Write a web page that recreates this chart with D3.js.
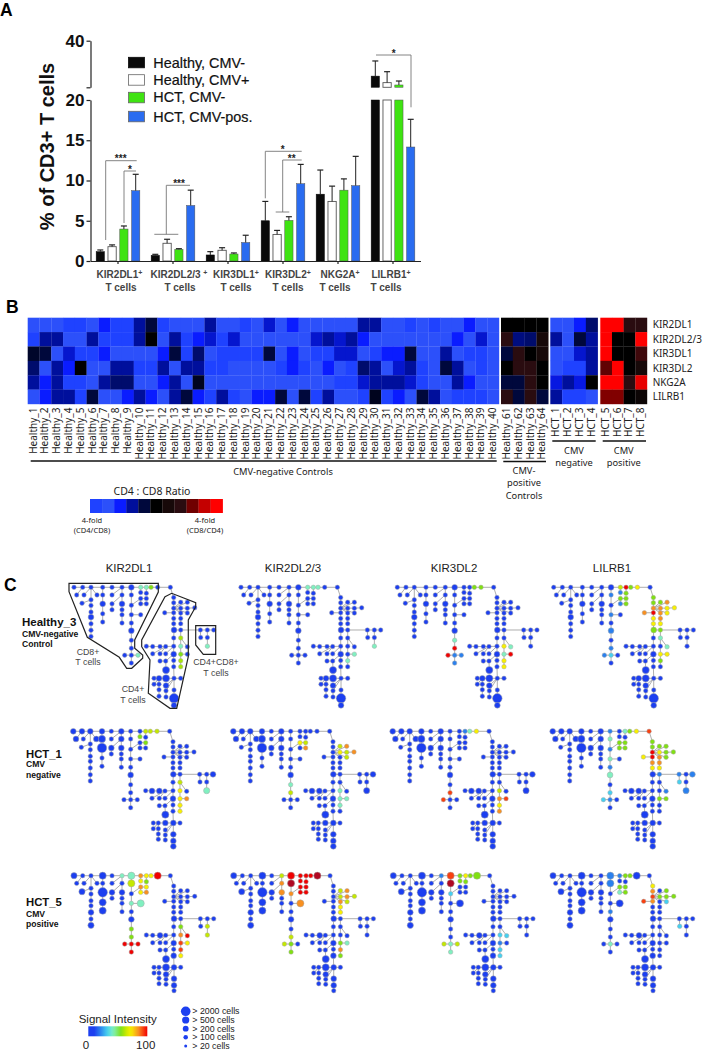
<!DOCTYPE html>
<html>
<head>
<meta charset="utf-8">
<style>
  html, body { margin: 0; padding: 0; background: #fff; }
  svg { display: block; }
  text { font-family: "Liberation Sans", Arial, sans-serif; }
  .myriad { font-family: "Noto Sans", sans-serif; fill: #222; }
</style>
</head>
<body>
<div id="chart"></div>
<script src="https://cdn.jsdelivr.net/npm/d3@7"></script>
<script>
// ---------- panel A data ----------
var markers = ['KIR2DL1', 'KIR2DL2/3 ', 'KIR3DL1', 'KIR3DL2', 'NKG2A', 'LILRB1'];
var groups = ['Healthy, CMV-', 'Healthy, CMV+', 'HCT, CMV-', 'HCT, CMV-pos.'];
var groupColors = ['#0a0a0a', '#ffffff', '#3fe312', '#2a6cf0'];
var healthyNeg = [1.16, 0.7, 0.75, 5.0, 8.3, 24.8];
var healthyNegErr = [1.37, 0.83, 1.16, 7.4, 11.3, 31.3];
var healthyPos = [1.78, 2.2, 1.33, 3.3, 7.4, 22.0];
var healthyPosErr = [2.0, 2.7, 1.65, 3.8, 9.3, 26.7];
var hctNeg = [3.97, 1.45, 0.87, 5.05, 8.8, 21.0];
var hctNegErr = [4.35, 1.53, 1.0, 5.5, 10.2, 22.7];
var hctPos = [8.74, 6.9, 2.3, 9.6, 9.36, 14.16];
var hctPosErr = [10.77, 8.8, 3.2, 12.0, 13.0, 17.6];
var barMeans = [healthyNeg, healthyPos, hctNeg, hctPos];
var barErrs = [healthyNegErr, healthyPosErr, hctNegErr, hctPosErr];

// ---------- panel B data: level -5 (4-fold CD4/CD8) ... 0 ... 5 (4-fold CD8/CD4) ----------
var healthySamples = d3.range(1, 41).map(d => 'Healthy_' + d);
var cmvPosSamples = ['Healthy_61', 'Healthy_62', 'Healthy_63', 'Healthy_64'];
var hctNegSamples = ['HCT_1', 'HCT_2', 'HCT_3', 'HCT_4'];
var hctPosSamples = ['HCT_5', 'HCT_6', 'HCT_7', 'HCT_8'];
var heatMarkers = ['KIR2DL1', 'KIR2DL2/3', 'KIR3DL1', 'KIR3DL2', 'NKG2A', 'LILRB1'];

var healthyLevels = [
  [-5,-5,-5,-4,-4,-5,-3,-4,-4,-2,-1,-4,-5,-5,-5,-2,-5,-5,-4,-5,-2.5,-5,-3,-5,-5,-5,-5,-5,-2,-2,-5,-5,-4,-5,-4,-5,-5,-3,-5,-5],
  [-4,-2,-2,-5,-5,-2,-4,-4,-4,-2,0,-5,-2,-4,-3,-2.5,-4,-2.5,-5,-5,-5,-5,-5,-5,-2.5,-2,-2.5,-2,-3,-5,-5,-5,-5,-5,-5,-5,-3,-5,-2.5,-5],
  [-0.7,-1,-5,-2.5,-4,-4,-3,-5,-5,-5,-5,-3,-1,-4,-1.5,-5,-4,-4,-4,-4,-1,-5,-3,-5,-4,-4,-2.5,-2.5,-5,-4,-3,-3,-1,-5,-5,-2,-5,-4,-4,-5],
  [-1.5,-5,-2,-3,0,-5,-5,-2,-2,-4,-4,-2,-5,-2,-2,-4,-4,-5,-5,-5,-5,-4,-3,-4,-5,-3,-5,-4,-1.5,-2,-5,-2.5,-2,-4,-5,-1,-2,-5,-4,-5],
  [-2,-3,-2,-4,-4,-5,-2,-1.5,-1.5,-5,-5,-3,-2,-5,-0.5,-5,-5,-5,-5,-5,-5,-5,-5,-5,-5,-5,-4,-4,-2.5,-2,-2,-2,-2.5,-4,-5,-5,-2,-3,-5,-5],
  [-5,-3,-2,-2,-4,-1,-5,-5,-3,-2,-3,-5,-2,-1,-3,-4,-2,-4,-5,-3,-3,-1,-5,-1,-4,-2,-5,-5,-4,-0.5,-4,-3,-5,-1,-2,-5,-4,-4,-4,-5]
];
var cmvPosLevels = [
  [0, 0, 0, 0],
  [2, -1.7, -1.5, 1],
  [-1, 2, 0, 1],
  [0, 2, 2, 0],
  [-1, -1, 2, 0],
  [2, -1, 2, -1]
];
var hctNegLevels = [
  [-5, -5, -3, -1.5],
  [-2, -5, -1, -2],
  [-5, -5, -2.5, -2],
  [-5, -4, -4, -2],
  [-2.7, -2, -2.7, 0],
  [-2, -4, -4, -5]
];
var hctPosLevels = [
  [5, 5, 2, 2],
  [5, 0, 0, 5],
  [5, 0, 0, 2.3],
  [2.8, 5, 0, 1],
  [5, 5, 2, 4.6],
  [3.2, 3.2, 0, 0.5]
];
var legendLevels = [-4, -5, -3, -2, -1, 0, 1, 2, 3, 4, 5];
var levelDomain = [-5, -4, -3, -2, -1, 0, 1, 2, 3, 4, 5];
var levelColors = ['#2c50fa', '#1f42ff', '#0a1cff', '#000f9c', '#00083c', '#000000', '#170909', '#2a0c10', '#700000', '#c40000', '#ff0000'];

// ---------- panel C data: one tree shared by all twelve plots ----------
var nodeX = [41,67,92,127,155,185,213,241,258,272,292,330,49,71,92,110,127,65,127,127,127,92,92,92,92,92,92,155,155,185,185,155,185,185,185,213,213,241,258,241,258,241,258,213,241,213,213,213,213,213,193,233,213,340,340,340,361,381,361,381,403,361,381,313,340,340,361,340,361,341,361,420,441,460,421,441,441,340,361,340,316,299,277,258,361,381,277,299,316,340,361,381,299,316,340,361,340,361,317,281,296,317,341,361,281,296,317,296,317,341,296,317,341,341];
var nodeY = [107,107,107,107,107,107,107,107,107,107,107,107,130,130,145,130,130,155,157,187,212,162,182,197,217,237,256,130,157,130,157,175,175,190,215,130,161,123,125,141,141,157,157,190,190,215,238,267,291,312,312,312,336,138,154,170,152,152,170,170,169,185,185,184,184,201,201,217,217,236,236,236,236,236,259,259,285,260,260,285,286,286,286,285,285,287,308,308,308,309,309,309,330,330,328,329,347,347,357,382,382,382,382,382,399,399,403,415,418,416,431,433,436,452];
var nodeParent = [-1,0,1,2,3,4,5,6,7,8,9,10,1,2,2,2,3,14,16,18,19,14,21,22,23,24,25,5,29,5,29,28,30,32,33,6,35,7,8,36,39,39,41,36,43,43,45,46,47,48,49,49,49,11,53,54,55,55,55,58,59,55,55,64,55,64,61,65,66,67,69,70,71,72,71,72,75,69,70,77,79,80,81,82,78,78,80,80,79,79,84,90,93,89,89,90,94,95,93,100,101,102,96,102,100,100,102,105,102,102,107,108,109,112];

// estimated cells per node, per row, [node, cells]; every other node is ~100 cells
var cellsRow1 = [[6,200],[18,200],[23,200],[30,200],[46,200],[69,200],[89,200],[98,500],[101,500],[100,200],[106,200],[112,2000],[113,200]];
var cellsRow2 = [[0,200],[1,200],[2,200],[3,200],[5,200],[12,200],[15,200],[16,500],[18,2000],[28,200],[29,200],[30,200],[46,200],[69,200],[73,200],[76,300],[81,200],[82,200],[89,200],[98,500],[101,200],[102,200],[109,200],[112,200],[113,200]];
var cellsRow3 = [[0,300],[3,500],[6,500],[10,500],[17,300],[18,2000],[19,500],[20,500],[24,200],[26,300],[28,200],[30,200],[35,500],[44,500],[46,200],[69,200],[81,200],[89,200],[96,200],[98,500],[101,500],[102,200],[106,200],[109,200],[112,200]];
var cellCounts = [20, 100, 200, 500, 2000];
var cellLabels = ['> 2000 cells', '> 500 cells', '> 200 cells', '> 100 cells', '> 20 cells'];

// signal intensity; every other node is at the bottom of the scale
var LB = 20, CY = 32, MT = 42, LM = 56, YG = 63, YL = 72, OR = 85, RO = 93, RD = 100, DR = 110;
var sigH3Kir2dl1 = [[7,MT],[8,MT],[9,LM],[51,MT],[76,MT],[78,60],[84,MT],[90,LM],[95,60],[97,60]];
var sigH3Kir2dl23 = [[7,MT],[8,MT],[9,MT],[76,MT],[91,MT],[95,MT]];
var sigH3Kir3dl2 = [[9,LM],[10,LM],[47,MT],[48,RD],[49,LB],[50,RD],[51,LB],[52,LB],[84,YL],[85,MT],[90,MT],[91,RD],[95,YL],[97,YL]];
var sigH3Lilrb1 = [[7,YG],[8,RD],[9,LM],[10,YL],[35,LB],[37,LB],[38,LM],[39,LM],[40,LM],[41,LB],[42,LM],[43,LB],[46,LB],[48,LB],[49,CY],[50,LB],[53,LM],[54,LM],[55,OR],[56,LM],[57,OR],[58,OR],[59,YL],[60,YL],[61,OR],[62,YL],[63,OR],[64,RD],[65,YL],[66,OR],[67,YL],[68,YL],[69,LM],[70,LM],[78,MT],[85,MT],[90,YL],[91,YL],[95,LM]];
var sigH1Kir2dl1 = [[8,YG],[9,YG],[10,YG],[37,LM],[40,LM],[76,MT],[78,YG],[84,YL],[90,YL],[91,OR],[95,YL],[97,YL]];
var sigH1Kir2dl23 = [[39,YL],[40,YG],[42,OR],[47,MT],[48,YG],[56,YG],[57,OR],[58,YL],[59,YG],[60,OR],[62,YG],[84,MT],[90,MT],[91,MT],[95,MT]];
var sigH1Kir3dl2 = [[8,LB],[9,MT],[10,YL],[48,RO],[50,RO],[84,YG],[90,OR],[91,RO],[95,YL],[97,OR]];
var sigH1Lilrb1 = [[6,LB],[8,MT],[9,LM],[10,YL],[11,RO],[35,MT],[36,LB],[39,LM],[40,LM],[41,LM],[42,LM],[43,MT],[45,LB],[46,MT],[48,CY],[49,LB],[50,CY],[53,LM],[54,LM],[55,RD],[56,LM],[57,LM],[58,YL],[59,LM],[60,LM],[61,OR],[62,LM],[63,YL],[64,RD],[65,OR],[66,OR],[67,YL],[68,YL],[70,LB],[71,LB],[73,LB],[74,CY],[76,LB],[85,LB],[90,LM],[91,LM]];
var sigH5Kir2dl1 = [[5,MT],[6,MT],[7,OR],[8,YL],[9,YL],[10,RD],[35,YG],[37,YL],[38,LM],[39,OR],[40,YL],[41,YL],[42,OR],[43,MT],[44,MT],[47,LM],[48,LM],[49,RD],[50,RD],[51,RD],[52,RD],[75,YG],[76,YG],[78,LM],[84,OR],[85,RD],[90,RO],[91,YL],[95,RO],[97,YL]];
var sigH5Kir2dl23 = [[5,YG],[6,RD],[7,RD],[8,RD],[9,RD],[10,DR],[29,OR],[30,OR],[35,DR],[36,OR],[37,RD],[38,RD],[39,RD],[40,RD],[41,RD],[42,RD],[44,OR],[48,YG],[49,LM],[50,YG],[52,LM],[56,YG],[57,OR],[58,YG],[59,OR],[60,YG],[61,OR],[62,YG],[66,YL],[68,YL],[90,LM],[91,MT],[95,OR],[97,LM]];
var sigH5Kir3dl2 = [[5,LB],[6,RO],[7,LM],[8,YL],[9,LM],[10,LM],[35,DR],[36,CY],[37,LM],[38,LM],[49,MT],[50,YG],[51,YG],[52,MT],[84,CY],[85,CY],[90,LB],[95,CY],[97,CY]];
var sigH5Lilrb1 = [[6,LB],[7,LB],[8,LM],[9,LM],[35,LB],[39,LM],[40,LM],[41,MT],[42,LM],[45,LB],[49,MT],[53,YL],[54,OR],[55,RO],[57,LM],[58,LM],[59,LM],[60,LM],[62,CY],[63,RO],[64,OR],[74,CY]];
var columnNames = ['KIR2DL1', 'KIR2DL2/3', 'KIR3DL2', 'LILRB1'];
var treeSignals = [
  [sigH3Kir2dl1, sigH3Kir2dl23, sigH3Kir3dl2, sigH3Lilrb1],
  [sigH1Kir2dl1, sigH1Kir2dl23, sigH1Kir3dl2, sigH1Lilrb1],
  [sigH5Kir2dl1, sigH5Kir2dl23, sigH5Kir3dl2, sigH5Lilrb1]
];
var treeCells = [cellsRow1, cellsRow2, cellsRow3];

var svg = d3.select('#chart').append('svg')
  .attr('width', 703)
  .attr('height', 1050);

panelLetter('A', 0, 16);
panelLetter('B', 6, 313);
panelLetter('C', 4, 591);
barChart();
heatmap();
treePanels();

function panelLetter(t, x, y) {
  svg.append('text').attr('x', x).attr('y', y)
    .style('font-size', '17.5px').style('font-weight', 'bold').text(t);
}

function barChart() {
  var yLow = d3.scaleLinear().domain([0, 20]).range([261, 100]);
  var yHigh = d3.scaleLinear().domain([20, 40]).range([87.3, 40.7]);
  var xGroup = d3.scaleBand().domain(markers).range([90.5, 420.5]);
  var xBar = d3.scaleBand().domain(groups)
    .range([0, xGroup.bandwidth() - 7.8])
    .paddingInner(0.3).paddingOuter(0.15);
  var offset = 3.9;

  var g = svg.append('g');
  groups.forEach(function (name, s) {
    var bars = g.append('g').selectAll('g')
      .data(markers)
      .enter()
      .append('g')
      .attr('transform', m => `translate(${xGroup(m) + offset + xBar(name)}, 0)`);
    var w = xBar.bandwidth();
    bars.append('rect')
      .attr('width', w)
      .attr('y', (m, i) => yLow(Math.min(barMeans[s][i], 20)))
      .attr('height', (m, i) => 261 - yLow(Math.min(barMeans[s][i], 20)))
      .style('fill', groupColors[s])
      .style('stroke', s === 0 ? '#0a0a0a' : '#555')
      .style('stroke-width', s === 1 ? 0.9 : 0.5);
    bars.filter((m, i) => barMeans[s][i] > 20)
      .append('rect')
      .attr('width', w)
      .attr('y', m => yHigh(barMeans[s][markers.indexOf(m)]))
      .attr('height', m => 87.3 - yHigh(barMeans[s][markers.indexOf(m)]))
      .style('fill', groupColors[s])
      .style('stroke', s === 0 ? '#0a0a0a' : '#555')
      .style('stroke-width', s === 1 ? 0.9 : 0.5);
    // upper error bar only
    var yVal = v => v > 20 ? yHigh(v) : yLow(v);
    bars.append('line')
      .attr('x1', w / 2).attr('x2', w / 2)
      .attr('y1', (m, i) => yVal(barMeans[s][i]))
      .attr('y2', (m, i) => yVal(barErrs[s][i]))
      .style('stroke', '#222').style('stroke-width', 1);
    bars.append('line')
      .attr('x1', w / 2 - 3).attr('x2', w / 2 + 3)
      .attr('y1', (m, i) => yVal(barErrs[s][i]))
      .attr('y2', (m, i) => yVal(barErrs[s][i]))
      .style('stroke', '#222').style('stroke-width', 1.2);
  });

  // axes
  var axisLow = svg.append('g').attr('transform', 'translate(90.5, 0)')
    .call(d3.axisLeft(yLow).tickValues([0, 5, 10, 15, 20]).tickSize(4).tickSizeOuter(0).tickPadding(2));
  var axisHigh = svg.append('g').attr('transform', 'translate(90.5, 0)')
    .call(d3.axisLeft(yHigh).tickValues([20, 40]).tickSize(4).tickSizeOuter(0).tickPadding(2)
      .tickFormat(d => d === 40 ? '40' : ''));
  [axisLow, axisHigh].forEach(function (a) {
    a.selectAll('path, line').style('stroke', '#222').style('stroke-width', 1.2);
    a.selectAll('text').style('font-size', '17px').style('font-weight', 'bold')
      .style('font-family', '"Liberation Sans", sans-serif').style('fill', '#111');
  });
  var axisX = svg.append('g').attr('transform', 'translate(0, 261)')
    .call(d3.axisBottom(xGroup).tickSize(3).tickSizeOuter(0).tickFormat(''));
  axisX.selectAll('path, line').style('stroke', '#222').style('stroke-width', 1.2);

  svg.append('text')
    .attr('transform', 'translate(54, 146.5) rotate(-90)')
    .style('text-anchor', 'middle')
    .style('font-size', '20px').style('font-weight', 'bold').style('fill', '#111')
    .text('% of CD3+ T cells');

  // category labels sit a little off the tick in the original
  var labelShift = [1.5, 6, 8, 5, 2, -2];
  var cellsShift = [3, 7, 8, 5, -3, -7];
  var labels = svg.append('g').style('font-size', '10px').style('font-weight', 'bold')
    .style('fill', '#444').style('text-anchor', 'middle');
  markers.forEach(function (m, i) {
    var cx = xGroup(m) + xGroup.bandwidth() / 2;
    var t = labels.append('text').attr('x', cx + labelShift[i]).attr('y', 278).text(m);
    t.append('tspan').attr('dy', -3).style('font-size', '7px').text('+');
    labels.append('text').attr('x', cx + cellsShift[i]).attr('y', 291).text('T cells');
  });

  // legend
  var legendTop = [57.3, 74.7, 92.3, 111.3];
  var legendBase = [67.5, 84.8, 102, 122];
  groups.forEach(function (name, i) {
    svg.append('rect').attr('x', 128.5).attr('y', legendTop[i]).attr('width', 16).attr('height', 10.5)
      .style('fill', groupColors[i]).style('stroke', i === 0 ? '#0a0a0a' : '#666').style('stroke-width', 0.8);
    svg.append('text').attr('x', 153.3).attr('y', legendBase[i])
      .style('font-size', '14.4px').style('fill', '#111').style('stroke', '#111').style('stroke-width', 0.2)
      .text(name);
  });

  // significance brackets
  var sigLines = [
    [[105.7, 240], [105.7, 160.7], [136.7, 160.7]],
    [[124, 223], [124, 171], [136, 171]],
    [[166.3, 234.3], [166.3, 185.3], [190, 185.3]],
    [[154.3, 234.3], [178.3, 234.3]],
    [[265.3, 198.3], [265.3, 151.3], [301.7, 151.3]],
    [[282.7, 212], [282.7, 160], [301.7, 160]],
    [[275.7, 212], [289.3, 212]],
    [[376, 55], [411, 55], [411, 107.3]]
  ];
  var sigStars = [['***', 120.7, 162], ['*', 130, 172.5], ['***', 179, 187], ['*', 282.7, 153], ['**', 291.7, 162], ['*', 393.7, 57]];
  var line = d3.line();
  svg.append('g').selectAll('path')
    .data(sigLines)
    .enter()
    .append('path')
    .attr('d', line)
    .style('fill', 'none').style('stroke', '#777').style('stroke-width', 0.9);
  svg.append('g').selectAll('text')
    .data(sigStars)
    .enter()
    .append('text')
    .attr('x', d => d[1]).attr('y', d => d[2])
    .style('text-anchor', 'middle').style('font-size', '10px').style('font-weight', 'bold').style('fill', '#222')
    .text(d => d[0]);
}

function heatmap() {
  var color = d3.scaleLinear().domain(levelDomain).range(levelColors);
  var yCell = d3.scaleBand().domain(heatMarkers).range([317.7, 404]);

  function block(samples, levels, x0, x1) {
    var x = d3.scaleBand().domain(samples).range([x0, x1]);
    var g = svg.append('g');
    levels.forEach(function (row, r) {
      g.selectAll('rect.r' + r)
        .data(row)
        .enter()
        .append('rect')
        .attr('class', 'r' + r)
        .attr('x', (d, i) => x(samples[i]))
        .attr('y', yCell(heatMarkers[r]))
        .attr('width', x.bandwidth() + 0.2)
        .attr('height', yCell.bandwidth() + 0.2)
        .style('fill', d => color(d));
    });
    g.selectAll('text')
      .data(samples)
      .enter()
      .append('text')
      .attr('class', 'myriad')
      .attr('transform', d => `translate(${x(d) + x.bandwidth() / 2 + 3}, 407.5) rotate(-90)`)
      .style('text-anchor', 'end')
      .style('font-size', '10px')
      .text(d => d);
  }
  block(healthySamples, healthyLevels, 27.7, 499);
  block(cmvPosSamples, cmvPosLevels, 501, 548.3);
  block(hctNegSamples, hctNegLevels, 550.3, 597.7);
  block(hctPosSamples, hctPosLevels, 600.3, 647);

  svg.append('g').selectAll('text')
    .data(heatMarkers)
    .enter()
    .append('text')
    .attr('class', 'myriad')
    .attr('x', 652.7)
    .attr('y', d => yCell(d) + yCell.bandwidth() / 2 + 3.5)
    .style('font-size', '10px')
    .text(d => d);

  // group rules and captions
  var rules = [[30.7, 496.7, 461], [503.3, 546, 461.5], [552.3, 595.7, 441], [602.7, 646, 441]];
  svg.append('g').selectAll('line')
    .data(rules)
    .enter()
    .append('line')
    .attr('x1', d => d[0]).attr('x2', d => d[1])
    .attr('y1', d => d[2]).attr('y2', d => d[2])
    .style('stroke', '#111').style('stroke-width', 1.3);
  var captions = [
    ['CMV-negative Controls', 283, 475], ['CMV-', 524, 474], ['positive', 524, 486], ['Controls', 524, 498.5],
    ['CMV', 574, 453.5], ['negative', 574, 465.5], ['CMV', 623.7, 453.5], ['positive', 623.7, 465.5]
  ];
  svg.append('g').selectAll('text')
    .data(captions)
    .enter()
    .append('text')
    .attr('class', 'myriad')
    .attr('x', d => d[1]).attr('y', d => d[2])
    .style('text-anchor', 'middle').style('font-size', '9.3px')
    .text(d => d[0]);

  // ratio legend
  var xLegend = d3.scaleBand().domain(d3.range(legendLevels.length)).range([90, 222.7]);
  svg.append('g').selectAll('rect')
    .data(legendLevels)
    .enter()
    .append('rect')
    .attr('x', (d, i) => xLegend(i)).attr('y', 499)
    .attr('width', xLegend.bandwidth() + 0.2).attr('height', 14)
    .style('fill', d => color(d));
  var legendText = [
    ['CD4 : CD8 Ratio', 152, 494.5, 10.5], ['4-fold', 92, 523, 7.5], ['(CD4/CD8)', 92, 532.5, 7.5],
    ['4-fold', 205, 523, 7.5], ['(CD8/CD4)', 205, 532.5, 7.5]
  ];
  svg.append('g').selectAll('text')
    .data(legendText)
    .enter()
    .append('text')
    .attr('class', 'myriad')
    .attr('x', d => d[1]).attr('y', d => d[2])
    .style('text-anchor', 'middle').style('font-size', d => d[3] + 'px')
    .text(d => d[0]);
}

function treePanels() {
  var rowY = [587.3, 731.3, 875.7];
  var colX = [[74, 241, 397.3, 553.7], [73.3, 233.3, 392.7, 552.7], [74, 233.7, 393.3, 553]];
  var x = d3.scaleLinear().domain([41, 460]).range([0, 139.7]);
  // top row plots run slightly taller at the bottom
  var yRow1 = d3.scaleLinear().domain([107, 382, 416, 436, 452]).range([0, 91, 102.7, 111, 118]);
  var yRest = d3.scaleLinear().domain([107, 452]).range([0, 115]);
  var radius = d3.scaleLinear().domain(cellCounts).range([1.5, 2.25, 2.9, 3.6, 4.8]);
  var color = d3.scaleLinear()
    .domain([0, 10, 20, 32, 42, 56, 63, 72, 85, 93, 100, 110])
    .range(['#1c3ff0', '#1c3ff0', '#2a80ee', '#45d0f0', '#80f0c0', '#80e012', '#c4e800', '#f8f000', '#f89020', '#f84010', '#f00000', '#b00822']);
  var links = d3.range(nodeX.length).filter(i => nodeParent[i] >= 0);

  treeSignals.forEach(function (rowSig, r) {
    var y = r === 0 ? yRow1 : yRest;
    var cells = new Map(treeCells[r]);
    rowSig.forEach(function (sig, c) {
      var signal = new Map(sig);
      var g = svg.append('g').attr('transform', `translate(${colX[r][c]}, ${rowY[r]})`);
      g.selectAll('line')
        .data(links)
        .enter()
        .append('line')
        .attr('x1', i => x(nodeX[i])).attr('y1', i => y(nodeY[i]))
        .attr('x2', i => x(nodeX[nodeParent[i]])).attr('y2', i => y(nodeY[nodeParent[i]]))
        .style('stroke', '#999').style('stroke-width', 0.8);
      g.selectAll('circle')
        .data(nodeX)
        .enter()
        .append('circle')
        .attr('cx', d => x(d))
        .attr('cy', (d, i) => y(nodeY[i]))
        .attr('r', (d, i) => radius(cells.get(i) || 100))
        .style('fill', (d, i) => color(signal.get(i) || 0))
        .style('stroke', '#aaa').style('stroke-width', 0.5);
    });
  });

  // column headers and row captions
  var headX = [129, 293, 454, 612];
  svg.append('g').selectAll('text')
    .data(columnNames)
    .enter()
    .append('text')
    .attr('x', (d, i) => headX[i]).attr('y', 572)
    .style('text-anchor', 'middle').style('font-size', '11.5px').style('fill', '#222')
    .text(d => d);
  var rowText = [
    ['Healthy_3', 22, 626, 11.5, true], ['CMV-negative', 22, 636.5, 8.6, true], ['Control', 22, 646.5, 8.6, true],
    ['HCT_1', 26, 757.7, 11.3, true], ['CMV', 26, 767.3, 8.6, true], ['negative', 26, 777.7, 8.6, true],
    ['HCT_5', 26, 906, 11.3, true], ['CMV', 26, 916.5, 8.6, true], ['positive', 26, 927, 8.6, true],
    ['CD8+', 88, 655, 8.8], ['T cells', 88, 665, 8.8],
    ['CD4+', 133, 692, 8.8], ['T cells', 133, 703, 8.8],
    ['CD4+CD8+', 216, 665, 8.8], ['T cells', 216, 676, 8.8]
  ];
  svg.append('g').selectAll('text')
    .data(rowText)
    .enter()
    .append('text')
    .attr('x', d => d[1]).attr('y', d => d[2])
    .style('text-anchor', d => d[4] ? 'start' : 'middle')
    .style('font-weight', d => d[4] ? 'bold' : 'normal')
    .style('fill', d => d[4] ? '#111' : '#444')
    .style('font-size', d => d[3] + 'px')
    .text(d => d[0]);

  // population gates on the first plot
  var gates = [
    [[69, 583.3], [158.3, 583.3], [158.3, 592], [134.7, 640], [134.7, 648.3], [142.7, 655], [142.7, 658.3], [131.7, 668.3], [126.7, 668.3], [119.3, 657.3], [87.3, 637.3], [69, 591.7]],
    [[165, 596.7], [171.7, 593.3], [195.7, 602.7], [195.7, 606.7], [188.3, 620], [188.3, 656.7], [176.7, 708.3], [170, 708.3], [148.3, 693.3], [150, 660], [141.7, 646.7], [141.7, 640]],
    [[195.7, 625.7], [215.7, 625.7], [215.7, 654.3], [203.3, 654.3], [195.7, 645]]
  ];
  var gateLine = d3.line().curve(d3.curveLinearClosed);
  svg.append('g').selectAll('path')
    .data(gates)
    .enter()
    .append('path')
    .attr('d', gateLine)
    .style('fill', 'none').style('stroke', '#222').style('stroke-width', 1.2);

  // signal legend
  var stops = d3.range(0, 101, 5);
  var grad = svg.append('defs').append('linearGradient').attr('id', 'sig');
  grad.selectAll('stop')
    .data(stops)
    .enter()
    .append('stop')
    .attr('offset', d => d + '%')
    .attr('stop-color', d => color(d));
  svg.append('rect').attr('x', 88.3).attr('y', 1026.3).attr('width', 59).attr('height', 10)
    .style('fill', 'url(#sig)');
  var sigText = [['Signal Intensity', 117.7, 1022.5], ['0', 86, 1049], ['100', 145.7, 1049]];
  svg.append('g').selectAll('text')
    .data(sigText)
    .enter()
    .append('text')
    .attr('x', d => d[1]).attr('y', d => d[2])
    .style('text-anchor', 'middle').style('font-size', '11.5px').style('fill', '#222')
    .text(d => d[0]);

  // size legend
  var sizeY = d3.scalePoint().domain(cellLabels).range([1011.3, 1046]);
  var sizeCells = cellCounts.slice().reverse();
  cellLabels.forEach(function (t, i) {
    svg.append('circle').attr('cx', 185.7).attr('cy', sizeY(t)).attr('r', radius(sizeCells[i]))
      .style('fill', '#1c3ff0');
    svg.append('text').attr('x', 192.3).attr('y', sizeY(t) + 3)
      .style('font-size', '8.8px').style('fill', '#222').text(t);
  });
}
</script>
</body>
</html>
